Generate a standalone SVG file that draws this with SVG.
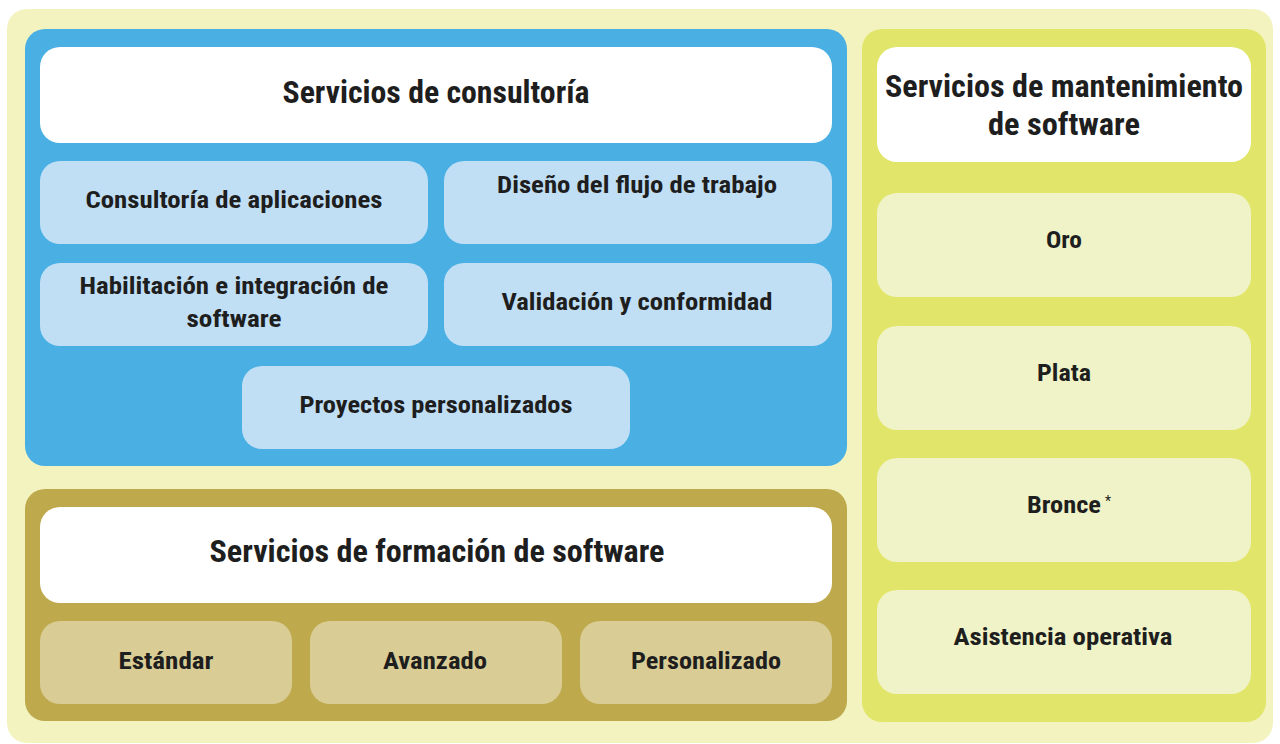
<svg xmlns="http://www.w3.org/2000/svg" width="1280" height="744" viewBox="0 0 1280 744">
<style>
text{font-family:"Liberation Sans Narrow","Roboto Condensed","Liberation Sans",sans-serif;font-weight:bold;fill:#1e1e1e;text-anchor:middle}
.h{font-size:31px}
.s{font-size:24px}
.w{fill:#ffffff}
.lb{fill:#c0dff5}
.lg{fill:#d9cd95}
.ll{fill:#f0f3c7}
</style>
<rect x="7" y="9" width="1266" height="734" rx="20" fill="#f3f3bf"/>
<g id="consultoria">
<rect x="25" y="29" width="822" height="437" rx="20" fill="#4ab0e4"/>
<g id="consultoria-title"><rect class="w" x="40" y="47" width="792" height="96" rx="20"/><text class="h" x="436" y="103" textLength="307" lengthAdjust="spacingAndGlyphs">Servicios de consultoría</text></g>
<g id="aplicaciones"><rect class="lb" x="40" y="161" width="388" height="83" rx="20"/><text class="s" x="234" y="208" textLength="297" lengthAdjust="spacingAndGlyphs">Consultoría de aplicaciones</text></g>
<g id="flujo"><rect class="lb" x="444" y="161" width="388" height="83" rx="20"/><text class="s" x="637" y="193" textLength="280" lengthAdjust="spacingAndGlyphs">Diseño del flujo de trabajo</text></g>
<g id="habilitacion"><rect class="lb" x="40" y="263" width="388" height="83" rx="20"/><text class="s" x="234" y="294" textLength="309" lengthAdjust="spacingAndGlyphs">Habilitación e integración de</text><text class="s" x="234" y="327" textLength="95" lengthAdjust="spacingAndGlyphs">software</text></g>
<g id="validacion"><rect class="lb" x="444" y="263" width="388" height="83" rx="20"/><text class="s" x="637" y="310" textLength="271" lengthAdjust="spacingAndGlyphs">Validación y conformidad</text></g>
<g id="proyectos"><rect class="lb" x="242" y="366" width="388" height="83" rx="20"/><text class="s" x="436" y="413" textLength="273" lengthAdjust="spacingAndGlyphs">Proyectos personalizados</text></g>
</g>
<g id="formacion">
<rect x="25" y="489" width="822" height="232" rx="20" fill="#bea94c"/>
<g id="formacion-title"><rect class="w" x="40" y="507" width="792" height="96" rx="20"/><text class="h" x="437" y="562" textLength="455" lengthAdjust="spacingAndGlyphs">Servicios de formación de software</text></g>
<g id="estandar"><rect class="lg" x="40" y="621" width="252" height="83" rx="20"/><text class="s" x="166" y="669" textLength="95" lengthAdjust="spacingAndGlyphs">Estándar</text></g>
<g id="avanzado"><rect class="lg" x="310" y="621" width="252" height="83" rx="20"/><text class="s" x="435" y="669" textLength="104" lengthAdjust="spacingAndGlyphs">Avanzado</text></g>
<g id="personalizado"><rect class="lg" x="580" y="621" width="252" height="83" rx="20"/><text class="s" x="706" y="669" textLength="150" lengthAdjust="spacingAndGlyphs">Personalizado</text></g>
</g>
<g id="mantenimiento">
<rect x="862" y="29" width="404" height="693" rx="20" fill="#e1e66a"/>
<g id="mantenimiento-title"><rect class="w" x="877" y="47" width="374" height="115" rx="20"/><text class="h" x="1064" y="97" textLength="358" lengthAdjust="spacingAndGlyphs">Servicios de mantenimiento</text><text class="h" x="1064" y="135" textLength="152" lengthAdjust="spacingAndGlyphs">de software</text></g>
<g id="oro"><rect class="ll" x="877" y="193" width="374" height="104" rx="20"/><text class="s" x="1064" y="248" textLength="36" lengthAdjust="spacingAndGlyphs">Oro</text></g>
<g id="plata"><rect class="ll" x="877" y="326" width="374" height="104" rx="20"/><text class="s" x="1064" y="381" textLength="54" lengthAdjust="spacingAndGlyphs">Plata</text></g>
<g id="bronce"><rect class="ll" x="877" y="458" width="374" height="104" rx="20"/><text class="s" x="1064" y="513" textLength="74" lengthAdjust="spacingAndGlyphs">Bronce</text><text x="1108" y="506" style="font-size:14px;font-weight:normal">*</text></g>
<g id="asistencia"><rect class="ll" x="877" y="590" width="374" height="104" rx="20"/><text class="s" x="1063" y="645" textLength="219" lengthAdjust="spacingAndGlyphs">Asistencia operativa</text></g>
</g>
<g id="connectors"/>
</svg>
